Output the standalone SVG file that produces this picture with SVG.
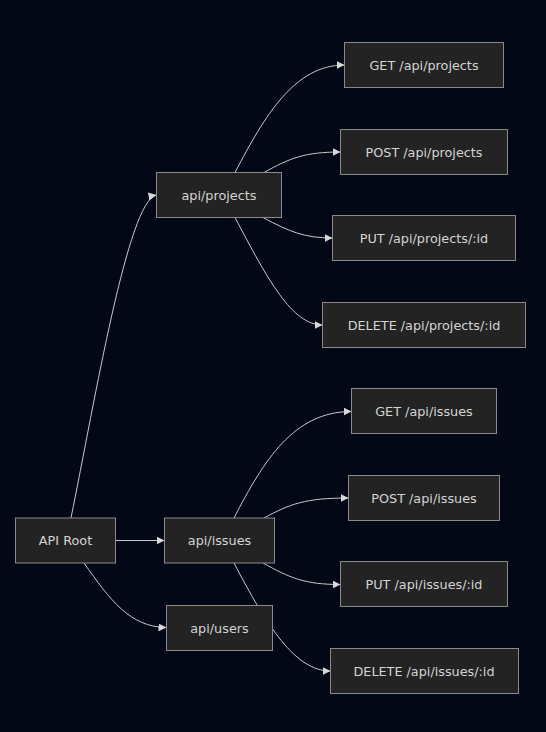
<svg xmlns="http://www.w3.org/2000/svg" width="546" height="732" viewBox="0 0 546 732">
<defs>
<style>
.bg{fill:#030817}
.node rect{fill:#232323;stroke:#8a8a8a;stroke-width:1}
.node text{fill:#d4d4d4;font-family:"DejaVu Sans",Verdana,sans-serif;font-size:12.8px;text-anchor:middle;dominant-baseline:central}
.edges path{fill:none;stroke:#c8c8c8;stroke-width:1}
</style>
<marker id="arr" viewBox="0 0 10 10" refX="10" refY="5" markerWidth="8" markerHeight="8" markerUnits="userSpaceOnUse" orient="auto">
<path d="M0,0 L10,5 L0,10 z" fill="#d8d8d8"/>
</marker>
</defs>
<rect class="bg" x="0" y="0" width="546" height="732"/>
<g class="edges">
<path d="M71,518 C95,400 128,200 156.5,195" marker-end="url(#arr)"/>
<path d="M115.5,540.5 L164.5,540.5" marker-end="url(#arr)"/>
<path d="M84,563 C110,600 130,627 166.5,627.5" marker-end="url(#arr)"/>
<path d="M235,172.5 C265,115 295,65 344.5,65" marker-end="url(#arr)"/>
<path d="M264,172.5 C290,158 305,152 340.5,152" marker-end="url(#arr)"/>
<path d="M263,217.5 C290,232 305,238 332.5,238" marker-end="url(#arr)"/>
<path d="M235,217.5 C268,280 292,325 322.5,325" marker-end="url(#arr)"/>
<path d="M234,518 C264,460 294,411.5 351.5,411.5" marker-end="url(#arr)"/>
<path d="M264,518 C290,504 305,498 348.5,498" marker-end="url(#arr)"/>
<path d="M263,563 C290,578 305,584.5 340.5,584.5" marker-end="url(#arr)"/>
<path d="M234,563 C267,626 295,671 330.5,671" marker-end="url(#arr)"/>
</g>
<g id="api-root" class="node"><rect x="15.5" y="518" width="100" height="45"/><text x="65.5" y="540.5">API Root</text></g>
<g id="api-projects" class="node"><rect x="156.5" y="172.5" width="125" height="45"/><text x="219" y="195">api/projects</text></g>
<g id="api-issues" class="node"><rect x="164.5" y="518" width="110" height="45"/><text x="219.5" y="540.5">api/issues</text></g>
<g id="api-users" class="node"><rect x="166.5" y="605.5" width="106" height="45"/><text x="219.5" y="628">api/users</text></g>
<g id="get-projects" class="node"><rect x="344.5" y="42.5" width="159" height="45"/><text x="424" y="65">GET /api/projects</text></g>
<g id="post-projects" class="node"><rect x="340.5" y="129.5" width="167" height="45"/><text x="424" y="152">POST /api/projects</text></g>
<g id="put-projects" class="node"><rect x="332.5" y="215.5" width="183" height="45"/><text x="424" y="238">PUT /api/projects/:id</text></g>
<g id="delete-projects" class="node"><rect x="322.5" y="302.5" width="203" height="45"/><text x="424" y="325">DELETE /api/projects/:id</text></g>
<g id="get-issues" class="node"><rect x="351.5" y="388.5" width="145" height="45"/><text x="424" y="411">GET /api/issues</text></g>
<g id="post-issues" class="node"><rect x="348.5" y="475.5" width="151" height="45"/><text x="424" y="498">POST /api/issues</text></g>
<g id="put-issues" class="node"><rect x="340.5" y="561.5" width="167" height="45"/><text x="424" y="584">PUT /api/issues/:id</text></g>
<g id="delete-issues" class="node"><rect x="330.5" y="648.5" width="188" height="45"/><text x="424" y="671">DELETE /api/issues/:id</text></g>
</svg>
